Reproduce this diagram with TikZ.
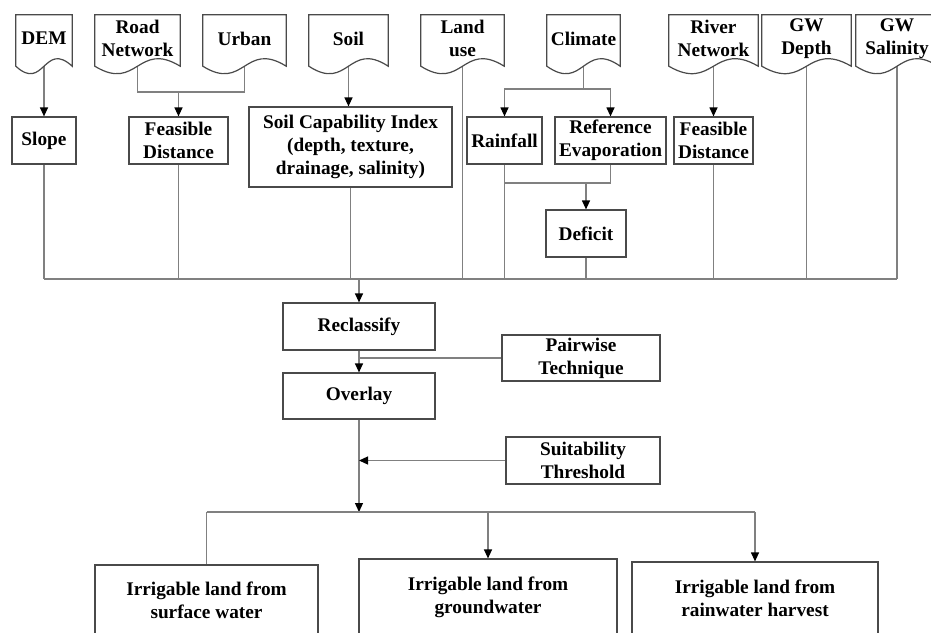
\documentclass[tikz,border=0pt]{standalone}
\usepackage{fontspec}
\setmainfont{Liberation Serif}
\usetikzlibrary{arrows.meta,calc}
\pgfdeclarelayer{bg}
\pgfdeclarelayer{edges}
\pgfdeclarelayer{docs}
\pgfsetlayers{bg,edges,docs,main}
\definecolor{linec}{HTML}{808080}
\definecolor{boxc}{HTML}{4A4A4A}
\tikzset{
  lbl/.style={font=\fontsize{19.3}{23}\selectfont\bfseries, text=black, align=center, inner sep=0pt},
  box/.style={lbl, draw=boxc, line width=1.2pt, fill=white},
  doc/.style={lbl, minimum height=47pt},
  conn/.style={draw=linec, line width=1.2pt},
  arr/.style={conn, -{Triangle[length=9pt,width=8pt,color=black]}},
  docline/.style={draw=boxc, line width=1.2pt, fill=white}
}
\newcommand{\docoutline}[1]{%
  \begin{pgfonlayer}{docs}
  \draw[docline] ($(#1.south east)+(0,4)$) -- (#1.north east) -- (#1.north west) -- ($(#1.south west)+(0,4)$)
    .. controls ($(#1.south)+(0,30)$) and ($(#1.south)+(0,-22)$) .. ($(#1.south east)+(0,4)$) -- cycle;
  \end{pgfonlayer}}
\begin{document}
\begin{tikzpicture}[x=1pt,y=-1pt]
\useasboundingbox (0,0) rectangle (931,632);
\begin{pgfonlayer}{bg}
\fill[white] (0,0) rectangle (931,632);
\end{pgfonlayer}
% document inputs
\node[doc, minimum width=56pt] (dem) at (44,38.5) {DEM};
\node[doc, minimum width=85pt] (road) at (137.5,38.5) {Road\\Network};
\node[doc, minimum width=83pt] (urban) at (244.5,38.5) {Urban};
\node[doc, minimum width=79pt] (soil) at (348.5,38.5) {Soil};
\node[doc, minimum width=83pt] (landuse) at (462.5,38.5) {Land\\use};
\node[doc, minimum width=73pt] (climate) at (583.5,38.5) {Climate};
\node[doc, minimum width=89pt] (river) at (713.5,38.5) {River\\Network};
\node[doc, minimum width=89pt] (gwdepth) at (806.5,38.5) {GW\\Depth};
\node[doc, minimum width=82pt] (gwsal) at (897,38.5) {GW\\Salinity};
\foreach \n in {dem,road,urban,soil,landuse,climate,river,gwdepth,gwsal}{\docoutline{\n}}
% processing boxes
\node[box, minimum width=64pt, minimum height=47pt] (slope) at (44,140.5) {Slope};
\node[box, minimum width=99pt, minimum height=47pt] (feas1) at (178.5,140.5) {Feasible\\Distance};
\node[box, minimum width=203pt, minimum height=80pt] (soilcap) at (350.5,147) {Soil Capability Index\\(depth, texture,\\drainage, salinity)};
\node[box, minimum width=75pt, minimum height=47pt] (rain) at (504.5,140.5) {Rainfall};
\node[box, minimum width=111pt, minimum height=47pt] (refevap) at (610.5,140.5) {Reference\\Evaporation};
\node[box, minimum width=79pt, minimum height=47pt] (feas2) at (713.5,140.5) {Feasible\\Distance};
\node[box, minimum width=80pt, minimum height=47pt] (deficit) at (586,233.5) {Deficit};
\node[box, minimum width=152pt, minimum height=47pt] (reclass) at (359,326.5) {Reclassify};
\node[box, minimum width=158pt, minimum height=46pt] (pairwise) at (581,358) {Pairwise\\Technique};
\node[box, minimum width=152pt, minimum height=46pt] (overlay) at (359,396) {Overlay};
\node[box, minimum width=154pt, minimum height=47pt] (suit) at (583,460.5) {Suitability\\Threshold};
\node[box, minimum width=223pt, minimum height=70pt] (out1) at (206.5,600) {Irrigable land from\\surface water};
\node[box, minimum width=258pt, minimum height=76pt] (out2) at (488,597) {Irrigable land from\\groundwater};
\node[box, minimum width=246pt, minimum height=73pt] (out3) at (755,598.5) {Irrigable land from\\rainwater harvest};
% junctions
\coordinate (jr) at (178.5,92);
\coordinate (jc) at (583.5,89);
\coordinate (jd) at (586,183);
\coordinate (bus) at (359,279);
\coordinate (jo) at (359,512);
\begin{pgfonlayer}{edges}
\draw[arr] (dem.south) -- (slope.north);
\draw[conn] (road.south) |- (jr) -| (urban.south);
\draw[arr] (jr) -- (feas1.north);
\draw[arr] (soil.south) -- (soil.south |- soilcap.north);
\draw[conn] (climate.south) -- (jc);
\draw[arr] (jc) -| (rain.north);
\draw[arr] (jc) -| (refevap.north);
\draw[arr] (river.south) -- (feas2.north);
\draw[conn] (rain.south) |- (jd) -| (refevap.south);
\draw[arr] (jd) -- (deficit.north);
\foreach \n in {slope,feas1,soilcap,landuse,rain,deficit,feas2,gwdepth,gwsal}{\draw[conn] (\n.south) -- (\n.south |- bus);}
\draw[conn] (slope.south |- bus) -- (gwsal.south |- bus);
\draw[arr] (bus) -- (reclass.north);
\draw[arr] (reclass.south) -- (overlay.north);
\draw[conn] (pairwise.west) -- (pairwise.west -| reclass.south);
\draw[arr] (overlay.south) -- (jo);
\draw[arr] (suit.west) -- (suit.west -| overlay.south);
\draw[conn] (out1.north |- jo) -- (out3.north |- jo);
\draw[conn] (out1.north |- jo) -- (out1.north);
\draw[arr] (out2.north |- jo) -- (out2.north);
\draw[arr] (out3.north |- jo) -- (out3.north);
\end{pgfonlayer}
\end{tikzpicture}
\end{document}
